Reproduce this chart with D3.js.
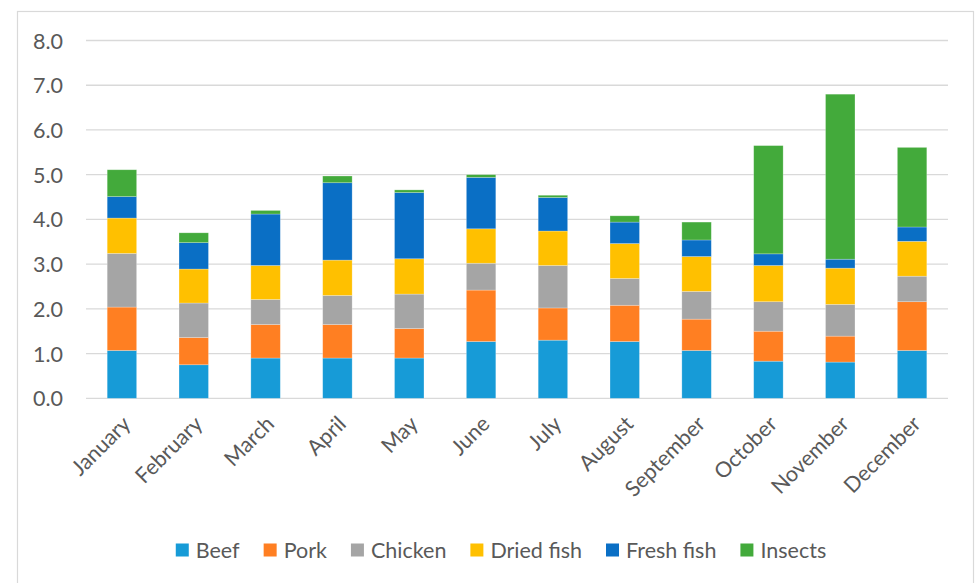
<!DOCTYPE html>
<html>
<head>
<meta charset="utf-8">
<script src="https://cdn.jsdelivr.net/npm/d3@7"></script>
<style>
  html, body { margin: 0; padding: 0; background: #fff; }
  svg { display: block; font-family: Lato, "Noto Sans", sans-serif; }
</style>
</head>
<body>
<svg id="chart" width="975" height="583"></svg>
<script>
// Monthly consumption by food type (stacked)
const months = ["January", "February", "March", "April", "May", "June",
                "July", "August", "September", "October", "November", "December"];
const seriesNames = ["Beef", "Pork", "Chicken", "Dried fish", "Fresh fish", "Insects"];
const seriesColors = ["#179bd7", "#ff7f22", "#a5a5a5", "#ffc000", "#0a6fc5", "#43aa3b"];

const beef      = [1.07, 0.75, 0.90, 0.90, 0.90, 1.27, 1.30, 1.27, 1.07, 0.83, 0.81, 1.07];
const pork      = [0.97, 0.61, 0.75, 0.75, 0.66, 1.15, 0.72, 0.81, 0.70, 0.67, 0.58, 1.09];
const chicken   = [1.20, 0.77, 0.56, 0.65, 0.77, 0.60, 0.95, 0.60, 0.62, 0.66, 0.71, 0.57];
const driedFish = [0.79, 0.76, 0.76, 0.79, 0.79, 0.77, 0.77, 0.78, 0.78, 0.81, 0.81, 0.78];
const freshFish = [0.48, 0.59, 1.15, 1.73, 1.48, 1.15, 0.75, 0.48, 0.37, 0.26, 0.20, 0.32];
const insects   = [0.60, 0.22, 0.08, 0.15, 0.06, 0.06, 0.05, 0.14, 0.40, 2.42, 3.69, 1.78];

const yTicks = [0, 1, 2, 3, 4, 5, 6, 7, 8];

const seriesValues = [beef, pork, chicken, driedFish, freshFish, insects];
const rows = months.map((m, i) => {
  const r = { month: m };
  seriesNames.forEach((s, k) => { r[s] = seriesValues[k][i]; });
  return r;
});

const svg = d3.select("#chart");
const plot = { left: 86, right: 948, top: 40.5, bottom: 398.3 };
const fontSize = 21.5;

// outer chart frame
svg.append("rect")
  .attr("x", 17.5).attr("y", 11.5)
  .attr("width", 956).attr("height", 600)
  .attr("fill", "#fff").attr("stroke", "#d9d9d9").attr("stroke-width", 1.2);

const x = d3.scaleBand().domain(months).range([plot.left, plot.right]).paddingInner(0.59).paddingOuter(0.295);
const y = d3.scaleLinear().domain([0, 8]).range([plot.bottom, plot.top]);

// gridlines
svg.append("g")
  .selectAll("line")
  .data(yTicks)
  .join("line")
  .attr("x1", plot.left).attr("x2", plot.right)
  .attr("y1", d => y(d)).attr("y2", d => y(d))
  .attr("stroke", "#d9d9d9").attr("stroke-width", 1.3);

// y axis labels
const yAxis = d3.axisLeft(y).tickValues(yTicks).tickFormat(d3.format(".1f")).tickSize(0).tickPadding(0);
const gy = svg.append("g").attr("transform", `translate(63,0)`).call(yAxis);
gy.select(".domain").remove();
gy.selectAll("text")
  .attr("fill", "#595959").attr("font-size", fontSize).attr("dy", "0.35em")
  .attr("font-family", "Lato, 'Noto Sans', sans-serif");

// stacked bars
const stack = d3.stack().keys(seriesNames);
const layers = stack(rows);
svg.append("g")
  .selectAll("g")
  .data(layers)
  .join("g")
  .attr("fill", (d, i) => seriesColors[i])
  .selectAll("rect")
  .data(d => d)
  .join("rect")
  .attr("x", d => x(d.data.month))
  .attr("width", x.bandwidth())
  .attr("y", d => y(d[1]))
  .attr("height", d => y(d[0]) - y(d[1]))
  .attr("stroke", "#ffffff").attr("stroke-opacity", 0.35).attr("stroke-width", 0.7);

// x axis labels, rotated
const xAxis = d3.axisBottom(x).tickSize(0).tickPadding(0);
const gx = svg.append("g").attr("transform", `translate(0,${plot.bottom})`).call(xAxis);
gx.select(".domain").remove();
gx.selectAll("text")
  .attr("fill", "#595959").attr("font-size", fontSize)
  .attr("font-family", "Lato, 'Noto Sans', sans-serif")
  .attr("text-anchor", "end")
  .attr("dy", null)
  .attr("y", 0)
  .attr("transform", "translate(10,27) rotate(-45)");

// legend
const legend = svg.append("g").attr("font-size", fontSize).attr("fill", "#595959");
const items = legend.selectAll("g").data(seriesNames).join("g");
items.append("rect").attr("width", 13).attr("height", 13).attr("y", -6.5)
  .attr("fill", (d, i) => seriesColors[i]);
items.append("text").attr("x", 20).attr("dy", "0.35em").attr("fill", "#595959").text(d => d);
const widths = [];
items.each(function () {
  widths.push(20 + this.querySelector("text").getComputedTextLength());
});
const gap = 24;
const total = d3.sum(widths) + gap * (widths.length - 1);
let cursor = 501 - total / 2;
items.attr("transform", (d, i) => {
  const t = `translate(${cursor},550)`;
  cursor += widths[i] + gap;
  return t;
});
</script>
</body>
</html>
